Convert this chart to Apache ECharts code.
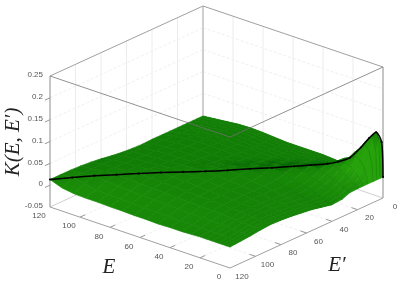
<!DOCTYPE html>
<html><head><meta charset="utf-8">
<style>html,body{margin:0;padding:0;background:#fff}#c{width:399px;height:285px}</style>
<script src="https://cdn.jsdelivr.net/npm/echarts@6/dist/echarts.min.js"></script></head>
<body><div id="c"></div>
<script>
const energyTicks=[120,100,80,60,40,20,0];
const energyPrimeTicks=[120,100,80,60,40,20,0];
const kTicks=[-0.05,0,0.05,0.1,0.15,0.2,0.25];
const kTickLabels=['-0.05','0','0.05','0.1','0.15','0.2','0.25'];
const nodes=[0,.5,2.5,5,8,12,16,20,26,32,40,48,56,64,72,80,88,96,104,112,120];
const k0=[-.002,-.002,-.002,-.002,-.002,-.002,-.002,-.002,-.003,-.01,-.012,-.007,-.002,.001,.004,.006,.007,.005,.002,0,-.002];
const k05=[-.002,.078,.085,.06,.035,.015,.005,.001,-.002,-.009,-.012,-.007,-.002,.001,.004,.006,.007,.005,.002,0,-.002];
const k25=[-.002,.085,.101,.09,.066,.034,.016,.007,.001,-.006,-.01,-.006,-.001,.002,.005,.007,.008,.006,.002,0,-.002];
const k5=[-.002,.06,.09,.088,.075,.046,.025,.013,.005,-.002,-.007,-.004,0,.003,.006,.008,.008,.006,.003,0,-.002];
const k8=[-.002,.035,.066,.075,.067,.052,.034,.021,.01,.003,-.003,-.002,.002,.005,.007,.009,.009,.007,.003,0,-.002];
const k12=[-.002,.015,.034,.046,.052,.044,.038,.028,.016,.008,.002,.001,.004,.007,.009,.01,.01,.008,.004,.001,-.002];
const k16=[-.002,.005,.016,.025,.034,.038,.036,.031,.021,.013,.006,.004,.006,.009,.01,.011,.011,.009,.005,.001,-.002];
const k20=[-.002,.001,.007,.013,.021,.028,.031,.032,.025,.017,.01,.007,.009,.011,.012,.012,.012,.01,.005,.001,-.002];
const k26=[-.002,-.001,.001,.004,.008,.012,.017,.024,.03,.023,.015,.011,.012,.013,.014,.014,.013,.011,.006,.001,-.003];
const k32=[.001,.001,.002,.003,.004,.007,.01,.015,.023,.028,.021,.016,.015,.015,.016,.015,.014,.012,.007,.001,-.004];
const k40=[.003,.003,.003,.003,.004,.005,.007,.009,.014,.021,.026,.021,.018,.017,.017,.016,.015,.013,.007,.001,-.004];
const k48=[.003,.003,.003,.003,.004,.005,.006,.007,.01,.014,.022,.025,.021,.019,.018,.017,.016,.014,.008,.002,-.005];
const k56=[.003,.003,.003,.003,.004,.004,.005,.006,.008,.01,.015,.021,.023,.021,.02,.019,.017,.015,.009,.002,-.004];
const k64=[.003,.003,.003,.004,.004,.004,.005,.006,.007,.009,.012,.016,.021,.022,.021,.02,.018,.016,.01,.003,-.004];
const k72=[.005,.005,.005,.005,.005,.005,.005,.006,.007,.008,.01,.013,.017,.021,.022,.021,.019,.017,.011,.003,-.003];
const k80=[.007,.007,.007,.007,.007,.007,.007,.008,.008,.009,.01,.012,.015,.018,.021,.022,.02,.018,.012,.004,-.003];
const k88=[.008,.008,.008,.008,.008,.008,.008,.009,.009,.01,.011,.012,.014,.016,.019,.02,.021,.019,.014,.005,-.002];
const k96=[.007,.007,.007,.007,.008,.008,.008,.008,.009,.01,.011,.012,.013,.015,.017,.018,.019,.02,.016,.007,-.002];
const k104=[.004,.004,.004,.005,.005,.006,.006,.006,.007,.008,.009,.01,.012,.013,.015,.016,.017,.018,.019,.011,-.001];
const k112=[.001,.001,.001,.001,.002,.002,.002,.003,.004,.005,.006,.008,.009,.011,.012,.014,.015,.015,.016,.016,.003];
const k120=[-.002,-.002,-.002,-.002,-.002,-.002,-.002,-.002,-.002,-.002,-.002,-.003,-.002,0,.003,.007,.01,.012,.013,.013,.013];
const K=[k0,k05,k25,k5,k8,k12,k16,k20,k26,k32,k40,k48,k56,k64,k72,k80,k88,k96,k104,k112,k120];

// orthographic view of the 3D box
const O=[383,198],EV=[-180,-61],PV=[-153,70],KH=131;
function P(e,p,k){return [O[0]+e/120*EV[0]+p/120*PV[0], O[1]+e/120*EV[1]+p/120*PV[1]-(k+0.05)/0.3*KH];}
const n=nodes.length;
function shade(i,j){
  if(i<=1&&j<=1)return 0.9;
  const a=Math.max(i-1,0),b=Math.min(i+1,n-1),c=Math.max(j-1,0),d=Math.min(j+1,n-1);
  const dE=(K[b][j]-K[a][j])/(nodes[b]-nodes[a])*120/0.3;
  const dP=(K[i][d]-K[i][c])/(nodes[d]-nodes[c])*120/0.3;
  let t;
  if(j<i) t=0.44-dP*0.1-Math.max(0,dP-0.15)*1.5;
  else t=0.5+Math.max(0,-dP)*0.28+Math.max(0,dE)*0.05;
  return Math.max(0.08,Math.min(0.95,t));
}
function col(t){
  return 'rgb('+Math.round(t*40)+','+Math.round(95+t*70)+','+Math.round(t*12)+')';
}
const cells=[];
for(let i=0;i<n-1;i++)for(let j=0;j<n-1;j++)cells.push([i,j]);
cells.sort((a,b)=>(nodes[b[0]]+nodes[b[0]+1]-nodes[b[1]]-nodes[b[1]+1])-(nodes[a[0]]+nodes[a[0]+1]-nodes[a[1]]-nodes[a[1]+1]));

function seg(a,b,color,w,dash){return {a,b,color,w,dash};}
const back=[],front=[];
const LG='#ececec',LD='#f0f0f0';
energyTicks.forEach(e=>{
  if(e>0&&e<120){back.push(seg(P(e,0,-0.05),P(e,0,0.25),LG,1));back.push(seg(P(e,0,-0.05),P(e,120,-0.05),LD,1,[3,2]));}
  if(e>0&&e<120)front.push(seg(P(e,120,-0.05),P(e,116,-0.05),'#999',1));
});
energyPrimeTicks.forEach(p=>{
  if(p>0&&p<120){back.push(seg(P(120,p,-0.05),P(120,p,0.25),LG,1));back.push(seg(P(0,p,-0.05),P(120,p,-0.05),LD,1,[3,2]));}
  if(p>0&&p<120)front.push(seg(P(0,p,-0.05),P(4,p,-0.05),'#999',1));
});
kTicks.forEach(k=>{
  if(k>-0.05&&k<0.25){
    back.push(seg(P(120,120,k),P(120,0,k),LD,1,[3,2]));
    back.push(seg(P(120,0,k),P(0,0,k),LD,1,[3,2]));
    front.push(seg(P(120,120,k),P(120,124,k),'#999',1));
  }
});
back.push(seg(P(120,0,-0.05),P(120,0,0.25),'#cfcfcf',2));
back.push(seg(P(120,120,-0.05),P(120,0,-0.05),'#d0d0d0',1));
back.push(seg(P(120,0,-0.05),P(0,0,-0.05),'#d0d0d0',1));
const G='#a0a0a0';
front.push(seg(P(120,120,-0.05),P(120,120,0.25),'#8c8c8c',1));
front.push(seg(P(0,0,-0.05),P(0,0,0.25),'#8c8c8c',1));
front.push(seg(P(120,120,-0.05),P(0,120,-0.05),G,1));
front.push(seg(P(0,120,-0.05),P(0,0,-0.05),G,1));
front.push(seg(P(120,120,0.25),P(120,0,0.25),G,1));
front.push(seg(P(120,0,0.25),P(0,0,0.25),G,1));
front.push(seg(P(120,120,0.25),P(0,120,0.25),'rgba(110,110,110,0.75)',1));
front.push(seg(P(0,120,0.25),P(0,0,0.25),'rgba(110,110,110,0.75)',1));

function segSeries(list,z){return {type:'custom',coordinateSystem:'cartesian2d',z,silent:true,clip:false,
  data:list.map((_,i)=>[i]),
  renderItem(params,api){const s=list[params.dataIndex];const a=api.coord(s.a),b=api.coord(s.b);
    return {type:'line',shape:{x1:a[0],y1:a[1],x2:b[0],y2:b[1]},style:{stroke:s.color,lineWidth:s.w,lineDash:s.dash||null}};}};}

const ridge=nodes.map((e,i)=>P(e,e,K[i][i]));
const streakCols=[];
nodes.forEach((e,j)=>{if(e>=2.5&&e<=48)streakCols.push(j);});

const tickText=[];
const tf="8px 'Liberation Sans'";
kTicks.forEach((k,i)=>{const p=P(120,120,k);tickText.push({t:kTickLabels[i],x:p[0]-7,y:p[1]-1,al:'right'});});
energyTicks.forEach(e=>{const p=P(e,120,-0.05);tickText.push({t:String(e),x:p[0]-11,y:p[1]+9,al:'center'});});
energyPrimeTicks.forEach(e=>{const p=P(0,e,-0.05);tickText.push({t:String(e),x:p[0]+12,y:p[1]+8.5,al:'center'});});

const chart=echarts.init(document.getElementById('c'),null,{renderer:'canvas'});
chart.setOption({animation:false,backgroundColor:'#fff',
 grid:{left:0,right:0,top:0,bottom:0},
 xAxis:{type:'value',min:0,max:399,show:false},
 yAxis:{type:'value',min:0,max:285,inverse:true,show:false},
 series:[
  segSeries(back,1),
  {type:'custom',coordinateSystem:'cartesian2d',z:2,silent:true,clip:false,data:cells,
   renderItem(params,api){
    const [i,j]=cells[params.dataIndex];
    const corners=[[i,j],[i+1,j],[i+1,j+1],[i,j+1]];
    const pts=corners.map(c=>api.coord(P(nodes[c[0]],nodes[c[1]],K[c[0]][c[1]])));
    const sh=corners.map(c=>shade(c[0],c[1]));
    const useAC=Math.abs(sh[0]-sh[2])>=Math.abs(sh[1]-sh[3]);
    const A=useAC?0:1,C=useAC?2:3;
    const grad=new echarts.graphic.LinearGradient(pts[A][0],pts[A][1],pts[C][0],pts[C][1],
      [{offset:0,color:col(sh[A])},{offset:1,color:col(sh[C])}],true);
    return {type:'polygon',shape:{points:pts},style:{fill:grad,stroke:grad,lineWidth:0.7}};
   }},
  {type:'custom',coordinateSystem:'cartesian2d',z:2.5,silent:true,clip:false,data:streakCols.map(j=>[j]),
   renderItem(params,api){
    const j=streakCols[params.dataIndex];const pts=[];
    for(let i=0;i<=j;i++)pts.push(api.coord(P(nodes[i],nodes[j],K[i][j])));
    return {type:'polyline',shape:{points:pts},style:{fill:null,stroke:'rgba(0,80,0,0.3)',lineWidth:0.7}};
   }},
  segSeries(front,3),
  {type:'line',z:4,silent:true,clip:false,data:ridge,smooth:0.25,symbol:'circle',symbolSize:2.2,
   lineStyle:{color:'#000',width:1.5},itemStyle:{color:'#000'}},
  {type:'custom',coordinateSystem:'cartesian2d',z:5,silent:true,clip:false,data:tickText.map((_,i)=>[i]),
   renderItem(params,api){const t=tickText[params.dataIndex];const c=api.coord([t.x,t.y]);
    return {type:'text',x:c[0],y:c[1],style:{text:t.t,font:tf,fill:'#555',textAlign:t.al,textVerticalAlign:'middle'}};}},
  {type:'custom',coordinateSystem:'cartesian2d',z:5,silent:true,clip:false,data:[[109,267,0],[337,265,0],[13,142,1]],
   renderItem(params,api){
    const c=api.coord([api.value(0),api.value(1)]);
    const txt=['E','E′','K(E, E′)'][params.dataIndex];
    return {type:'text',x:c[0],y:c[1],rotation:api.value(2)?Math.PI/2:0,
      style:{text:txt,font:"italic 21px 'Liberation Serif'",fill:'#222',textAlign:'center',textVerticalAlign:'middle'}};}}
 ]});
</script></body></html>
